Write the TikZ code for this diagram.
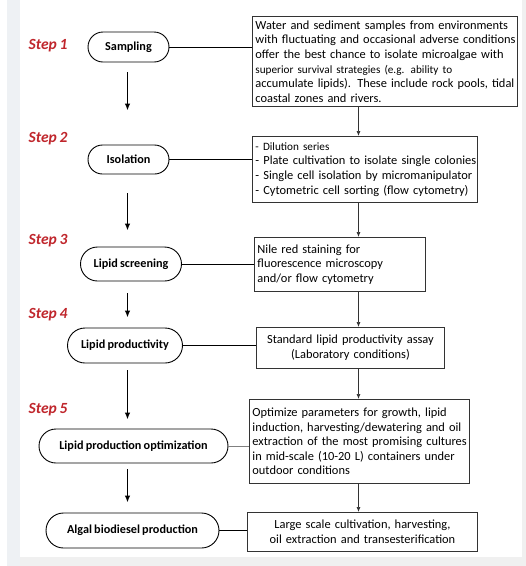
\documentclass[tikz,border=0pt]{standalone}
\usepackage{fontspec}
\setmainfont{Carlito}[WordSpace=0.8]
\usetikzlibrary{shapes.misc,arrows.meta}
\hyphenpenalty=10000
\exhyphenpenalty=10000
\newcommand{\tline}[1]{\mbox{#1}}
\definecolor{stepred}{HTML}{C0262C}
\definecolor{bandgrey}{HTML}{EEF1F4}
\definecolor{botgrey}{HTML}{F0F0F0}
\definecolor{boxline}{HTML}{333333}
\tikzset{
  steplabel/.style={text=stepred, font=\fontsize{15.5}{18}\selectfont\bfseries\itshape, inner sep=0pt},
  stage/.style={rounded rectangle, draw=black, line width=0.9pt, inner sep=0pt, font=\fontsize{12.2}{14}\selectfont\bfseries},
  infobox/.style={draw=boxline, line width=0.9pt, anchor=north west, inner xsep=3pt, inner ysep=0pt,
    font=\fontsize{12.4}{14.6}\selectfont},
  bigarrow/.style={line width=1.3pt, -{Latex[length=7pt,width=5.5pt]}},
  thinarrow/.style={line width=0.7pt, draw=boxline, -{Latex[length=5pt,width=4pt]}},
  link/.style={line width=0.9pt, draw=black},
}
\begin{document}
\begin{tikzpicture}[x=1pt,y=-1pt]
\useasboundingbox (0,0) rectangle (526,566);
\fill[white] (0,0) rectangle (526,566);
\fill[bandgrey] (7,0) rectangle (526,566);
\fill[botgrey] (20,557) rectangle (526,566);
\fill[botgrey] (522,0) rectangle (526,557);
\fill[white] (20,0) rectangle (522,557);

% step labels
\node[steplabel] (s1) at (48,45.5) {Step 1};
\node[steplabel] (s2) at (48,139) {Step 2};
\node[steplabel] (s3) at (48,241) {Step 3};
\node[steplabel] (s4) at (48,315) {Step 4};
\node[steplabel] (s5) at (48,409.5) {Step 5};

% stages
\node[stage, minimum width=81pt, minimum height=30pt] (n1) at (128.5,47) {Sampling};
\node[stage, minimum width=81pt, minimum height=29pt] (n2) at (128.5,159.5) {Isolation};
\node[stage, minimum width=101pt, minimum height=34pt] (n3) at (131,264) {Lipid screening};
\node[stage, minimum width=115pt, minimum height=35pt] (n4) at (125,345.5) {Lipid productivity};
\node[stage, minimum width=189pt, minimum height=34pt] (n5) at (133.5,446) {Lipid production optimization};
\node[stage, minimum width=173pt, minimum height=35pt] (n6) at (132.5,530.5) {Algal biodiesel production};

% info boxes
\node[infobox, minimum width=265pt, minimum height=90pt, text width=259pt, align=left] (b1) at (252,16)
 {\tline{Water and sediment samples from environments}\\
  \tline{with fluctuating and occasional adverse conditions}\\
  \tline{offer the best chance to isolate microalgae with}\\
  \tline{\fontsize{11.2}{14.6}\selectfont superior survival strategies (e.g. ability to}\\
  \tline{accumulate lipids). These include rock pools, tidal}\\
  \tline{coastal zones and rivers.}};
\node[infobox, minimum width=225pt, minimum height=66pt, text width=219pt, align=left] (b2) at (252,136)
 {\tline{\fontsize{11.2}{14.6}\selectfont - Dilution series}\\
  \tline{- Plate cultivation to isolate single colonies}\\
  \tline{- Single cell isolation by micromanipulator}\\
  \tline{- Cytometric cell sorting (flow cytometry)}};
\node[infobox, minimum width=171pt, minimum height=54pt, text width=165pt, align=left] (b3) at (254,237)
 {\tline{Nile red staining for}\\
  \tline{fluorescence microscopy}\\
  \tline{and/or flow cytometry}};
\node[infobox, minimum width=188pt, minimum height=41pt, text width=182pt, align=center] (b4) at (256,327)
 {\tline{Standard lipid productivity assay}\\
  \tline{(Laboratory conditions)}};
\node[infobox, minimum width=220pt, minimum height=84pt, text width=214pt, align=left] (b5) at (249,399)
 {\tline{Optimize parameters for growth, lipid}\\
  \tline{induction, harvesting/dewatering and oil}\\
  \tline{extraction of the most promising cultures}\\
  \tline{in mid-scale (10-20 L) containers under}\\
  \tline{outdoor conditions}};
\node[infobox, minimum width=230pt, minimum height=39pt, text width=224pt, align=center] (b6) at (247,512)
 {\tline{Large scale cultivation, harvesting,}\\
  \tline{oil extraction and transesterification}};

% horizontal links
\draw[link] (n1.east) -- (n1.east -| b1.west);
\draw[link] (n2.east) -- (n2.east -| b2.west);
\draw[link] (n3.east) -- (n3.east -| b3.west);
\draw[link] (n4.east) -- (n4.east -| b4.west);
\draw[link, draw=gray, line width=0.7pt] (n5.east) -- (n5.east -| b5.west);
\draw[link] (n6.east) -- (n6.east -| b6.west);

% left arrows
\coordinate (ax) at (127.5,0);
\draw[bigarrow] ([yshift=-10pt]n1.south -| ax) -- ([yshift=34pt]n2.north -| ax);
\draw[bigarrow] ([yshift=-19pt]n2.south -| ax) -- ([yshift=16pt]n3.north -| ax);
\draw[bigarrow] ([yshift=-12pt]n3.south -| ax) -- ([yshift=10pt]n4.north -| ax);
\draw[bigarrow] ([yshift=-7pt]n4.south -| ax) -- ([yshift=9pt]n5.north -| ax);
\draw[bigarrow] ([yshift=-6pt]n5.south -| ax) -- ([yshift=10pt]n6.north -| ax);

% right arrows
\coordinate (rx) at (358.5,0);
\draw[thinarrow] (b1.south -| rx) -- (b2.north -| rx);
\draw[thinarrow] (b2.south -| rx) -- (b3.north -| rx);
\draw[thinarrow] (b3.south -| rx) -- (b4.north -| rx);
\draw[thinarrow] (b4.south -| rx) -- (b5.north -| rx);
\draw[thinarrow] (b5.south -| rx) -- (b6.north -| rx);
\end{tikzpicture}
\end{document}
